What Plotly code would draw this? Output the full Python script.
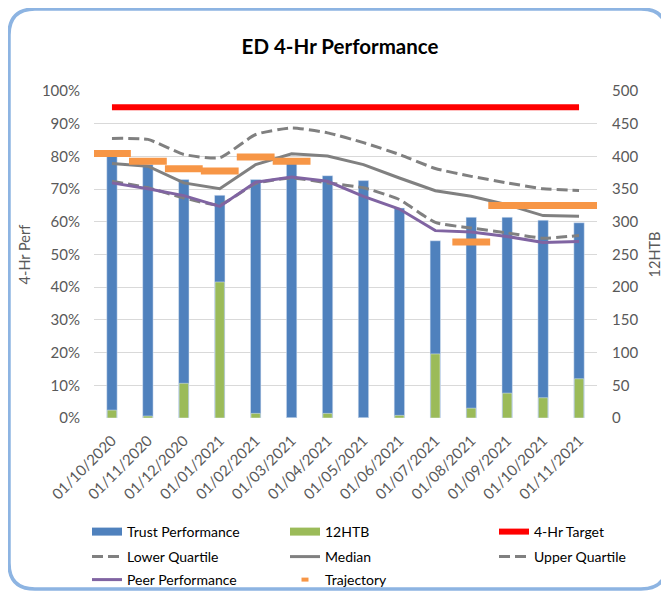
import plotly.graph_objects as go

months = ["01/10/2020", "01/11/2020", "01/12/2020", "01/01/2021", "01/02/2021",
          "01/03/2021", "01/04/2021", "01/05/2021", "01/06/2021", "01/07/2021",
          "01/08/2021", "01/09/2021", "01/10/2021", "01/11/2021"]
trust_perf = [0.80, 0.775, 0.729, 0.681, 0.729, 0.79, 0.741, 0.726, 0.642, 0.542,
              0.614, 0.614, 0.605, 0.597]
htb12 = [12, 3, 53, 208, 7, 0, 7, 0, 4, 98, 15, 38, 31, 60]
target = [0.95] * 14
lower_q = [0.724, 0.704, 0.673, 0.652, 0.717, 0.734, 0.719, 0.704, 0.668, 0.598,
           0.581, 0.566, 0.550, 0.558]
median = [0.778, 0.770, 0.719, 0.701, 0.775, 0.808, 0.801, 0.775, 0.734, 0.695,
          0.678, 0.652, 0.619, 0.617]
upper_q = [0.855, 0.852, 0.806, 0.796, 0.867, 0.887, 0.872, 0.842, 0.806, 0.763,
           0.739, 0.719, 0.701, 0.696]
peer = [0.719, 0.701, 0.680, 0.647, 0.721, 0.737, 0.724, 0.678, 0.639, 0.573,
        0.569, 0.555, 0.537, 0.540]
trajectory = [0.809, 0.785, 0.762, 0.755, 0.798, 0.785, None, None, None, None,
              0.538, 0.650, 0.650, 0.650]

BLUE = "#4F81BD"
GREEN = "#9BBB59"
RED = "#FF0000"
GRAY = "#808080"
PURPLE = "#8064A2"
ORANGE = "#F79646"
FONT = "Lato"
TXT = "#595959"

# the page body adds an 8px offset; lay out in page pixels and shift
OFF = 8
W, H = 669 - OFF, 593 - OFF
PL, PR, PT, PB = 94, 597, 91, 418          # plot area in page pixels
L, T = PL - OFF, PT - OFF
R, B = W - (PR - OFF), H - (PB - OFF)
pw, ph = PR - PL, PB - PT


def px2paper(px, py):
    return (px - PL) / pw, (PB - py) / ph


fig = go.Figure()

fig.add_trace(go.Bar(x=months, y=trust_perf, name="Trust Performance", marker_color=BLUE,
                     width=0.29, showlegend=False, yaxis="y"))
fig.add_trace(go.Bar(x=months, y=htb12, name="12HTB", marker_color=GREEN,
                     width=0.26, showlegend=False, yaxis="y2"))

fig.add_trace(go.Scatter(x=months, y=target, mode="lines", name="4-Hr Target",
                         line=dict(color=RED, width=6), legend="legend3"))
fig.add_trace(go.Scatter(x=months, y=upper_q, mode="lines", name="Upper Quartile",
                         line=dict(color=GRAY, width=3, dash="11px,5px", shape="spline", smoothing=0.5),
                         legend="legend6"))
fig.add_trace(go.Scatter(x=months, y=median, mode="lines", name="Median",
                         line=dict(color=GRAY, width=3), legend="legend5"))
fig.add_trace(go.Scatter(x=months, y=lower_q, mode="lines", name="Lower Quartile",
                         line=dict(color=GRAY, width=3, dash="11px,5px", shape="spline", smoothing=0.5),
                         legend="legend4"))
fig.add_trace(go.Scatter(x=months, y=peer, mode="lines", name="Peer Performance",
                         line=dict(color=PURPLE, width=3), legend="legend7"))
fig.add_trace(go.Scatter(x=months, y=trajectory, mode="markers", name="Trajectory",
                         marker=dict(symbol="line-ew", size=27,
                                     line=dict(color=ORANGE, width=7), color=ORANGE),
                         showlegend=False))

# legend entries drawn like the reference swatches
fig.add_trace(go.Scatter(x=[None], y=[None], mode="lines", name="Trust Performance",
                         line=dict(color=BLUE, width=8), legend="legend"))
fig.add_trace(go.Scatter(x=[None], y=[None], mode="lines", name="12HTB",
                         line=dict(color=GREEN, width=8), legend="legend2"))
fig.add_trace(go.Scatter(x=[None], y=[None], mode="markers", name="Trajectory",
                         marker=dict(symbol="line-ew", size=5,
                                     line=dict(color=ORANGE, width=4), color=ORANGE),
                         legend="legend8"))

# rounded border (page pixels)
x0, y0, x1, y1, r = 9, 9, 667, 589, 26
pts = [
    ("M", [(x0 + r, y0)]),
    ("L", [(x1 - r, y0)]),
    ("Q", [(x1, y0), (x1, y0 + r)]),
    ("L", [(x1, y1 - r)]),
    ("Q", [(x1, y1), (x1 - r, y1)]),
    ("L", [(x0 + r, y1)]),
    ("Q", [(x0, y1), (x0, y1 - r)]),
    ("L", [(x0, y0 + r)]),
    ("Q", [(x0, y0), (x0 + r, y0)]),
]
path = ""
for cmd, ps in pts:
    path += cmd + " ".join("%.5f,%.5f" % px2paper(a, b) for a, b in ps) + " "
path += "Z"
fig.add_shape(type="path", path=path, xref="paper", yref="paper",
              line=dict(color="#8DB4E2", width=3.5), layer="above")

# legend placement: text x positions and row centres in page pixels
leg_text_x = [127, 325, 534]
leg_row_y = [532, 557, 580]
legend_cfg = {}
names = ["legend", "legend2", "legend3", "legend4", "legend5", "legend6", "legend7", "legend8"]
for i, nm in enumerate(names):
    col, row = i % 3, i // 3
    lx, ly = px2paper(leg_text_x[col] - 40, leg_row_y[row])
    legend_cfg[nm] = dict(x=lx, xanchor="left", y=ly, yanchor="middle",
                          orientation="h", bgcolor="rgba(0,0,0,0)",
                          font=dict(size=14, color="#000000", family=FONT))

fig.update_layout(
    width=W, height=H,
    margin=dict(l=L, r=R, t=T, b=B, autoexpand=False),
    paper_bgcolor="white", plot_bgcolor="white",
    barmode="overlay",
    font=dict(family=FONT, color=TXT, size=15),
    title=dict(text="<b>ED 4-Hr Performance</b>", x=(340 - OFF) / W, xanchor="center",
               y=1 - (47 - OFF) / H, yanchor="middle",
               font=dict(family=FONT, size=20.5, color="#000000")),
    xaxis=dict(type="category", range=[-0.5, 13.5], tickangle=-45, showgrid=False,
               tickfont=dict(size=15, color=TXT), ticks="", showline=False, zeroline=False,
               ticklabelstandoff=10),
    yaxis=dict(range=[0, 1], dtick=0.1, tickformat=".0%", showgrid=True, gridcolor="#D9D9D9",
               gridwidth=1, zeroline=False, tickfont=dict(size=15, color=TXT),
               title=dict(text="4-Hr Perf", font=dict(size=14.5, color=TXT), standoff=7),
               ticklabelstandoff=13),
    yaxis2=dict(range=[0, 500], dtick=50, overlaying="y", side="right", showgrid=False,
                zeroline=False, tickfont=dict(size=15, color=TXT),
                title=dict(text="12HTB", font=dict(size=14.5, color=TXT), standoff=12),
                ticklabelstandoff=14),
    **legend_cfg,
)

fig.write_html("out.html")
